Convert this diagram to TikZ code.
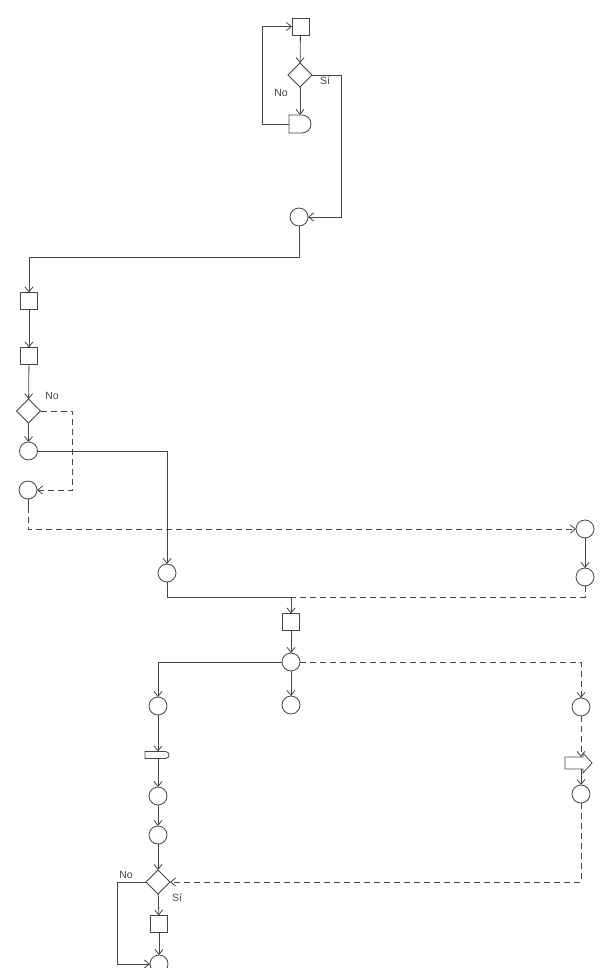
\documentclass[tikz,border=0pt]{standalone}
\usepackage{fontspec}
\setmainfont{Liberation Sans}
\usetikzlibrary{arrows.meta,shapes.geometric,shapes.misc}
\definecolor{ink}{RGB}{70,70,70}
\tikzset{
  base/.style={draw=ink, line width=0.8pt, inner sep=0pt, outer sep=0pt},
  sq/.style={base, rectangle, minimum width=17pt, minimum height=17pt},
  cir/.style={base, circle, minimum size=18pt},
  dia/.style={base, diamond, minimum width=24pt, minimum height=24pt},
  dly/.style={base, rounded rectangle, rounded rectangle left arc=none, minimum width=22pt, minimum height=18pt},
  stor/.style={base, rounded rectangle, rounded rectangle left arc=none, minimum width=24pt, minimum height=7pt},
  barrow/.style={rectangle, inner sep=0pt, outer sep=0pt, minimum width=27pt, minimum height=12pt},
  con/.style={draw=ink, line width=0.8pt},
  arr/.style={con, -{Straight Barb[length=5pt,width=8pt]}},
  dsh/.style={dash pattern=on 6pt off 4pt},
  lbl/.style={text=ink, font=\fontsize{10.5}{12}\selectfont, inner sep=0pt}
}
\begin{document}
\begin{tikzpicture}[x=1pt,y=-1pt]
\useasboundingbox (0,0) rectangle (601,968);
% top block
\node[sq]  (q1) at (300.5,26.5) {};
\node[dia] (d1) at (300,75) {};
\node[dly] (dl) at (300,124) {};
\node[cir] (c0) at (299,217) {};
% left column
\node[sq]  (q2) at (29,301) {};
\node[sq]  (q3) at (29,356) {};
\node[dia] (d2) at (28.5,411) {};
\node[cir] (c1) at (28.5,451) {};
\node[cir] (c2) at (28,490) {};
\node[cir] (c3) at (167,573) {};
% right column upper
\node[cir] (r1) at (585,529) {};
\node[cir] (r2) at (585,577) {};
% middle
\node[sq]  (q4) at (291,622) {};
\node[cir] (c4) at (291,662) {};
\node[cir] (c5) at (291,705) {};
% lower chain
\node[cir]  (c6) at (158,706) {};
\node[stor] (st) at (157,755) {};
\node[cir]  (c7) at (158,796) {};
\node[cir]  (c8) at (158,835) {};
\node[dia]  (d3) at (158,882) {};
\node[sq]   (q5) at (159,924) {};
\node[cir]  (c9) at (159,964) {};
% right column lower
\node[cir]    (r3) at (581,707) {};
\node[barrow] (ba) at (578.5,763) {};
\draw[base, line join=miter] (ba.north west) -- ([xshift=-9pt]ba.north east) -- ([xshift=-9pt,yshift=4pt]ba.north east) -- (ba.east)
   -- ([xshift=-9pt,yshift=-4pt]ba.south east) -- ([xshift=-9pt]ba.south east) -- (ba.south west) -- cycle;
\node[cir]    (r4) at (581,794) {};
% labels
\node[lbl] (n1) at (281,93) {No};
\node[lbl] (s1) at (325,81) {Sí};
\node[lbl] (n2) at (52,396) {No};
\node[lbl] (n3) at (126,875) {No};
\node[lbl] (s3) at (177,898) {Sí};
% coordinates
\coordinate (j1) at (291,597);
% connectors top
\draw[arr] (q1) -- (d1);
\draw[arr] (d1) -- (dl);
\draw[arr] (dl.west) -- ++(-27,0) |- (q1.west);
\draw[arr] (d1.east) -- ++(29,0) |- (c0.east);
\draw[arr] (c0.south) -- ++(0,31) -| (q2.north);
\draw[arr] (q2) -- (q3);
\draw[arr] (q3) -- (d2);
\draw[arr] (d2) -- (c1);
\draw[arr,dsh] (d2.east) -- ++(32,0) |- (c2.east);
\draw[arr] (c1.east) -| (c3.north);
\draw[con] (c2.south) -- ++(0,8);
\draw[arr,dsh] ([yshift=-8pt]c2.south) |- (r1.west);
\draw[arr] (r1) -- (r2);
\draw[con] (c3.south) |- (j1);
\draw[con,dsh] (r2.south) |- (j1);
\draw[arr] (j1) -- (q4.north);
\draw[arr] (q4) -- (c4);
\draw[arr] (c4) -- (c5);
\draw[arr] (c4.west) -| (c6.north);
\draw[arr,dsh] (c4.east) -| (r3.north);
\draw[arr,dsh] (r3.south) -- (r3.south |- ba.north);
\draw[arr] (ba.south -| r4.north) -- (r4.north);
\draw[arr,dsh] (r4.south) |- (d3.east);
\draw[arr] (c6.south) -- (c6.south |- st.north);
\draw[arr] (c7.north |- st.south) -- (c7.north);
\draw[arr] (c7) -- (c8);
\draw[arr] (c8) -- (d3);
\draw[arr] (d3) -- (q5);
\draw[arr] (q5) -- (c9);
\draw[arr] (d3.west) -- ++(-29,0) |- (c9.west);
\end{tikzpicture}
\end{document}
